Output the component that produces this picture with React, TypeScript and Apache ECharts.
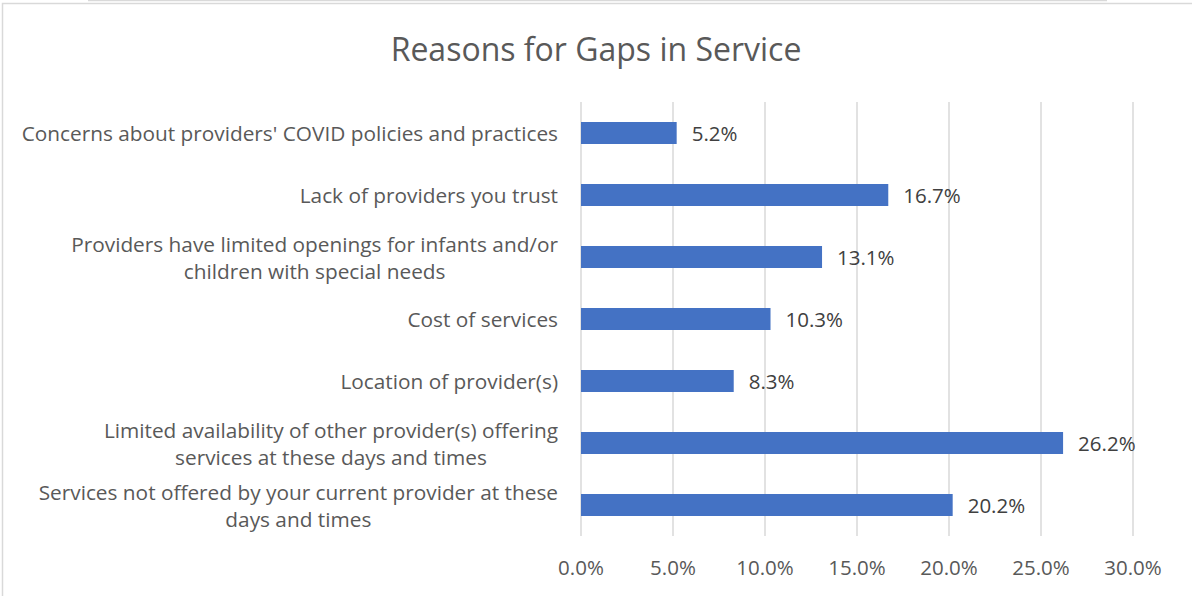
import React, { useEffect, useRef } from "react";
import * as echarts from "echarts";

const titleText = "Reasons for Gaps in Service";
const categories = [
  "Concerns about providers' COVID policies and practices",
  "Lack of providers you trust",
  "Providers have limited openings for infants and/or\nchildren with special needs",
  "Cost of services",
  "Location of provider(s)",
  "Limited availability of other provider(s) offering\nservices at these days and times",
  "Services not offered by your current provider at these\ndays and times",
];
const values = [5.2, 16.7, 13.1, 10.3, 8.3, 26.2, 20.2];
const axisMin = 0;
const axisMax = 30;
const axisStep = 5;

const FONT = "Open Sans";

export default function App() {
  const ref = useRef<HTMLDivElement>(null);
  useEffect(() => {
    document.body.style.margin = "0";
    const chart = echarts.init(ref.current!, null, { renderer: "svg" });
    chart.setOption({
      animation: false,
      textStyle: { fontFamily: FONT },
      title: {
        text: titleText,
        left: "center",
        top: 27,
        textStyle: { fontFamily: FONT, fontSize: 32, fontWeight: "normal", color: "#595959" },
      },
      grid: { left: 581, right: 59, top: 102, bottom: 60, containLabel: false },
      xAxis: {
        type: "value",
        min: axisMin,
        max: axisMax,
        interval: axisStep,
        axisLine: { show: false },
        axisTick: { show: false },
        splitLine: { show: true, lineStyle: { color: "#d9d9d9", width: 1.5 } },
        axisLabel: {
          formatter: (v: number) => v.toFixed(1) + "%",
          fontFamily: FONT,
          fontSize: 20.5,
          color: "#595959",
          margin: 20,
        },
      },
      yAxis: {
        type: "category",
        data: categories,
        inverse: true,
        axisLine: { show: false },
        axisTick: { show: false },
        axisLabel: {
          margin: 23,
          formatter: (v: string) =>
            v.split("\n").map((l) => `{c|${l}}`).join("\n"),
          rich: {
            c: {
              align: "center",
              fontFamily: FONT,
              fontSize: 20.8,
              color: "#595959",
              lineHeight: 27,
            },
          },
        },
      },
      series: [
        {
          type: "bar",
          data: values,
          barWidth: 22,
          itemStyle: { color: "#4472C4" },
          label: {
            show: true,
            position: "right",
            distance: 15,
            formatter: (p: any) => p.value.toFixed(1) + "%",
            fontFamily: FONT,
            fontSize: 20.5,
            color: "#404040",
          },
        },
      ],
      graphic: [
        {
          type: "line",
          shape: { x1: 88, y1: 0.5, x2: 1107, y2: 0.5 },
          style: { stroke: "#d9d9d9", lineWidth: 1.5 },
        },
        {
          type: "rect",
          shape: { x: 2.5, y: 3.5, width: 1300, height: 700 },
          style: { fill: "none", stroke: "#d9d9d9", lineWidth: 1.5 },
        },
      ],
    });
    return () => chart.dispose();
  }, []);
  return <div ref={ref} style={{ width: 1192, height: 596 }} />;
}
